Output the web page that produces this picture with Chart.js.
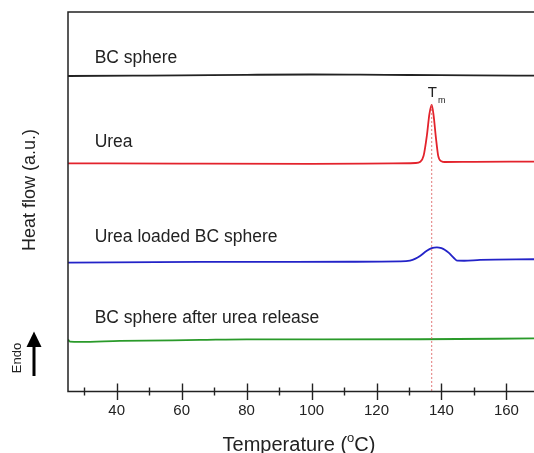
<!DOCTYPE html>
<html>
<head>
<meta charset="utf-8">
<script src="https://cdn.jsdelivr.net/npm/chart.js@4.4.1/dist/chart.umd.min.js"></script>
<style>
  html, body { margin:0; padding:0; background:#fff; }
  #wrap { width:534px; height:453px; }
</style>
</head>
<body>
<div id="wrap"><canvas id="dsc"></canvas></div>
<script>
// DSC curves, temperature (°C) vs heat flow (a.u.)
const bcSphere = [[25,31.59],[45,31.63],[60,31.66],[80,31.71],[100,31.74],[115,31.72],[130,31.69],[150,31.66],[168.5,31.62]];
const urea = [[25,22.85],[60,22.82],[100,22.8],[125,22.84],[132,22.88],[133.5,23.0],[134.5,23.6],[135.5,25.6],[136.3,27.8],[137,28.69],[137.6,27.6],[138.3,25.4],[139,23.6],[140,23.05],[141,22.98],[150,23.0],[168.5,23.02]];
const ureaLoaded = [[25,12.9],[65.7,12.97],[111.8,12.99],[127.2,13.02],[130.3,13.1],[132,13.3],[133.4,13.57],[135.5,14.1],[137,14.36],[138.6,14.44],[140,14.35],[141.1,14.17],[142.2,13.9],[143.2,13.57],[144.2,13.25],[144.9,13.1],[147,13.09],[151.9,13.17],[168.5,13.24]];
const afterRelease = [[25,5.2],[25.6,5.0],[28.7,4.96],[41,5.06],[65.7,5.16],[80,5.22],[96.5,5.21],[133.4,5.23],[168.5,5.31]];
const tmLine = [[137,28.69],[137,0]];

const seriesNames = ["BC sphere", "Urea", "Urea loaded BC sphere", "BC sphere after urea release"];
const seriesColors = ["#222222", "#e3232c", "#2323c8", "#2a9a2a"];
const labelY = [33.4, 24.95, 15.44, 7.33];
const labelX = 33.2;

const xMajorTicks = [40, 60, 80, 100, 120, 140, 160];
const xMinorTicks = [30, 50, 70, 90, 110, 130, 150];

const toPts = arr => arr.map(p => ({ x: p[0], y: p[1] }));

const decorPlugin = {
  id: "decor",
  afterDraw(chart) {
    const { ctx, chartArea } = chart;
    const xs = chart.scales.x;
    const ys = chart.scales.y;
    const { left, top, right, bottom } = chartArea;

    ctx.save();
    // frame: left, top, bottom
    ctx.strokeStyle = "#222";
    ctx.lineWidth = 1.5;
    ctx.beginPath();
    ctx.moveTo(right, top); ctx.lineTo(left, top); ctx.lineTo(left, bottom); ctx.lineTo(right, bottom);
    ctx.stroke();

    // ticks crossing the axis
    ctx.lineWidth = 1.4;
    xMajorTicks.forEach(v => {
      const px = Math.round(xs.getPixelForValue(v)) + 0.5;
      ctx.beginPath(); ctx.moveTo(px, bottom - 8); ctx.lineTo(px, bottom + 8.5); ctx.stroke();
    });
    xMinorTicks.forEach(v => {
      const px = Math.round(xs.getPixelForValue(v)) + 0.5;
      ctx.beginPath(); ctx.moveTo(px, bottom - 4); ctx.lineTo(px, bottom + 4); ctx.stroke();
    });

    // curve labels
    ctx.fillStyle = "#222";
    ctx.font = "17.5px 'Liberation Sans', Arial, sans-serif";
    ctx.textBaseline = "middle";
    ctx.textAlign = "left";
    seriesNames.forEach((n, i) => {
      ctx.fillText(n, xs.getPixelForValue(labelX), ys.getPixelForValue(labelY[i]));
    });

    // Tm label
    const tx = xs.getPixelForValue(tmLine[0][0]);
    const ty = ys.getPixelForValue(tmLine[0][1]);
    ctx.textAlign = "center";
    ctx.font = "15px 'Liberation Sans', Arial, sans-serif";
    ctx.fillText("T", tx + 0.5, ty - 12.5);
    ctx.font = "9px 'Liberation Sans', Arial, sans-serif";
    ctx.fillText("m", tx + 10, ty - 4.5);

    // x axis title with superscript o
    ctx.font = "20px 'Liberation Sans', Arial, sans-serif";
    const a = "Temperature (", c = "C)";
    ctx.textAlign = "left";
    const wa = ctx.measureText(a).width;
    const wc = ctx.measureText(c).width;
    ctx.font = "13px 'Liberation Sans', Arial, sans-serif";
    const wo = ctx.measureText("o").width;
    const total = wa + wo + wc;
    let sx = 299 - total / 2;
    ctx.font = "20px 'Liberation Sans', Arial, sans-serif";
    ctx.fillText(a, sx, 445);
    ctx.font = "13px 'Liberation Sans', Arial, sans-serif";
    ctx.fillText("o", sx + wa, 438);
    ctx.font = "20px 'Liberation Sans', Arial, sans-serif";
    ctx.fillText(c, sx + wa + wo, 445);

    // y axis title
    ctx.save();
    ctx.translate(30, 190);
    ctx.rotate(-Math.PI / 2);
    ctx.textAlign = "center";
    ctx.font = "18px 'Liberation Sans', Arial, sans-serif";
    ctx.fillText("Heat flow (a.u.)", 0, 0);
    ctx.restore();

    // Endo + arrow
    ctx.save();
    ctx.translate(17, 358);
    ctx.rotate(-Math.PI / 2);
    ctx.textAlign = "center";
    ctx.font = "13px 'Liberation Sans', Arial, sans-serif";
    ctx.fillText("Endo", 0, 0);
    ctx.restore();
    ctx.fillStyle = "#000";
    ctx.fillRect(32.5, 345, 3, 31);
    ctx.beginPath();
    ctx.moveTo(34, 331.5); ctx.lineTo(41.5, 347); ctx.lineTo(26.5, 347); ctx.closePath();
    ctx.fill();
    ctx.restore();
  }
};

const lineDs = (label, pts, color) => ({
  label,
  data: toPts(pts),
  borderColor: color,
  borderWidth: 1.8,
  pointRadius: 0,
  fill: false,
  cubicInterpolationMode: "monotone"
});

new Chart(document.getElementById("dsc").getContext("2d"), {
  type: "line",
  data: {
    datasets: [
      {
        label: "Tm",
        data: toPts(tmLine),
        borderColor: "rgba(220,95,95,0.85)",
        borderWidth: 1,
        borderDash: [2, 2],
        pointRadius: 0,
        tension: 0
      },
      lineDs(seriesNames[0], bcSphere, seriesColors[0]),
      lineDs(seriesNames[1], urea, seriesColors[1]),
      lineDs(seriesNames[2], ureaLoaded, seriesColors[2]),
      lineDs(seriesNames[3], afterRelease, seriesColors[3])
    ]
  },
  options: {
    responsive: true,
    maintainAspectRatio: false,
    animation: false,
    layout: { padding: { left: 68, top: 12, right: 0, bottom: 0 } },
    plugins: { legend: { display: false }, tooltip: { enabled: false } },
    scales: {
      x: {
        type: "linear",
        min: 25,
        max: 168.5,
        grid: { display: false, drawTicks: false },
        border: { display: false },
        afterBuildTicks: s => { s.ticks = xMajorTicks.map(v => ({ value: v })); },
        afterFit: s => { s.height = 61.5; },
        ticks: {
          color: "#222",
          padding: 10,
          maxRotation: 0,
          font: { family: "'Liberation Sans', Arial, sans-serif", size: 15 }
        }
      },
      y: {
        display: false,
        min: 0,
        max: 38
      }
    }
  },
  plugins: [decorPlugin]
});
</script>
</body>
</html>
